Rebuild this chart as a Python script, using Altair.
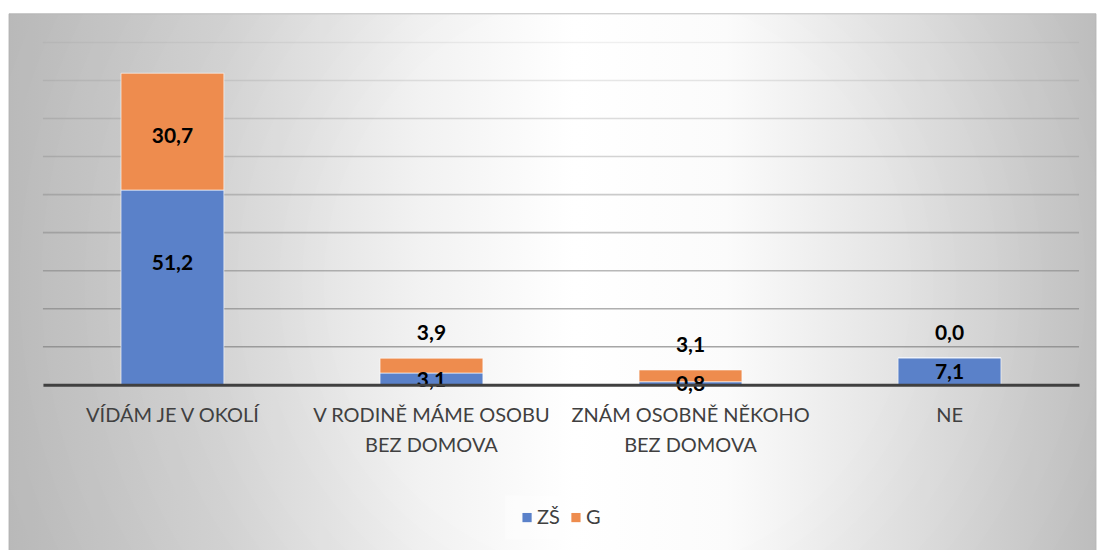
import altair as alt
import pandas as pd

categories = ["VÍDÁM JE V OKOLÍ", "V RODINĚ MÁME OSOBU BEZ DOMOVA",
              "ZNÁM OSOBNĚ NĚKOHO BEZ DOMOVA", "NE"]
series_names = ["ZŠ", "G"]
zs_values = [51.2, 3.1, 0.8, 7.1]
g_values = [30.7, 3.9, 3.1, 0.0]
grid_ticks = [10, 20, 30, 40, 50, 60, 70, 80, 90]

colors = ["#5A81C9", "#EE8C4E"]
FONT = "Lato"

rows = []
for i, c in enumerate(categories):
    rows.append({"cat": c, "series": "ZŠ", "value": zs_values[i], "ord": 0})
    rows.append({"cat": c, "series": "G", "value": g_values[i], "ord": 1})
df = pd.DataFrame(rows)

W, H = 1038, 343

x_enc = alt.X("cat:N", sort=categories,
              scale=alt.Scale(paddingInner=0.603, paddingOuter=0.3015))
y_scale = alt.Scale(domain=[0, 90], nice=False)

base = alt.Chart(df).transform_stack(
    stack="value", groupby=["cat"], as_=["y0", "y1"],
    sort=[alt.SortField("ord", order="ascending")]
).transform_calculate(
    mid="(datum.y0 + datum.y1) / 2",
    lab="replace(format(datum.value, '.1f'), '.', ',')"
)

frame = dict(x=alt.value(-34), x2=alt.value(1055), y=alt.value(-28.7), y2=alt.value(509.3))

# background frame: grey edges -> white centre
bg = alt.Chart(alt.Data(values=[{"a": 1}])).mark_rect(
    fill={"gradient": "linear", "x1": 0, "y1": 0, "x2": 1, "y2": 0,
          "stops": [{"offset": 0, "color": "#c6c6c6"},
                    {"offset": 0.2, "color": "#d9d9d9"},
                    {"offset": 0.38, "color": "#f2f2f2"},
                    {"offset": 0.52, "color": "#ffffff"},
                    {"offset": 0.66, "color": "#fbfbfb"},
                    {"offset": 0.84, "color": "#e0e0e0"},
                    {"offset": 1, "color": "#c6c6c6"}]},
    stroke="#bfbfbf", strokeWidth=1
).encode(**frame)

shade = alt.Chart(alt.Data(values=[{"a": 1}])).mark_rect(
    fill={"gradient": "radial",
          "stops": [{"offset": 0, "color": "rgba(0,0,0,0)"},
                    {"offset": 0.42, "color": "rgba(0,0,0,0)"},
                    {"offset": 1, "color": "rgba(0,0,0,0.07)"}],
          "x1": 0.56, "y1": 0.5, "r1": 0,
          "x2": 0.56, "y2": 0.5, "r2": 0.62}
).encode(**frame)

grid = alt.Chart(pd.DataFrame({"v": grid_ticks})).mark_rule(
    color="#808080", strokeWidth=1.6
).encode(
    y=alt.Y("v:Q", scale=y_scale, axis=None),
    x=alt.value(0), x2=alt.value(W),
    opacity=alt.Opacity("v:Q", scale=alt.Scale(domain=[10, 90], range=[0.7, 0.12]),
                        legend=None)
)

bars = base.mark_bar(stroke="white", strokeWidth=1, strokeOpacity=0.6).encode(
    x=alt.X("cat:N", sort=categories,
            scale=alt.Scale(paddingInner=0.603, paddingOuter=0.3015),
            axis=alt.Axis(title=None, labelAngle=0, ticks=False, domainColor="#404040",
                          domainWidth=3, labelFont=FONT, labelFontSize=20,
                          labelColor="#404040", labelPadding=21, labelLineHeight=30,
                          labelBaseline="top", labelLimit=0, zindex=1,
                          labelExpr="indexof(datum.label, ' BEZ DOMOVA') > 0 ? [replace(datum.label, ' BEZ DOMOVA', ''), 'BEZ DOMOVA'] : datum.label")),
    y=alt.Y("y0:Q", scale=y_scale, axis=None),
    y2="y1:Q",
    color=alt.Color("series:N", scale=alt.Scale(domain=series_names, range=colors),
                    legend=alt.Legend(title=None, orient="none", legendX=463, legendY=454,
                                      direction="horizontal", symbolType="square",
                                      symbolSize=85, symbolStrokeWidth=0,
                                      labelFont=FONT, labelFontSize=20, labelOffset=0,
                                      labelColor="#404040", columnPadding=6,
                                      padding=12, fillColor="rgba(255,255,255,0.35)",
                                      symbolOpacity=1))
)

txt_style = dict(font=FONT, fontSize=21, fontWeight="bold", color="black",
                 baseline="middle", align="center")

lab_big_zs = base.transform_filter("datum.series == 'ZŠ' && datum.value >= 10").mark_text(
    dy=-23, **txt_style).encode(x=x_enc, y=alt.Y("mid:Q", scale=y_scale), text="lab:N")
lab_big_g = base.transform_filter("datum.series == 'G' && datum.value >= 10").mark_text(
    dy=5, **txt_style).encode(x=x_enc, y=alt.Y("mid:Q", scale=y_scale), text="lab:N")
lab_small_zs = base.transform_filter("datum.series == 'ZŠ' && datum.value < 10").mark_text(
    dy=2, **txt_style).encode(x=x_enc, y=alt.Y("mid:Q", scale=y_scale), text="lab:N")
lab_small_g = base.transform_filter("datum.series == 'G' && datum.value < 10").mark_text(
    dy=-24, **txt_style).encode(x=x_enc, y=alt.Y("y1:Q", scale=y_scale), text="lab:N")

chart = alt.layer(bg, shade, grid, bars, lab_big_zs, lab_big_g, lab_small_zs, lab_small_g).resolve_scale(
    opacity="independent"
).properties(
    width=W, height=H, padding={"left": 0, "top": 4, "right": 0, "bottom": 0},
    background="white"
).configure_view(stroke=None)

chart.save("out.html", embed_options={"renderer": "svg", "actions": False})
